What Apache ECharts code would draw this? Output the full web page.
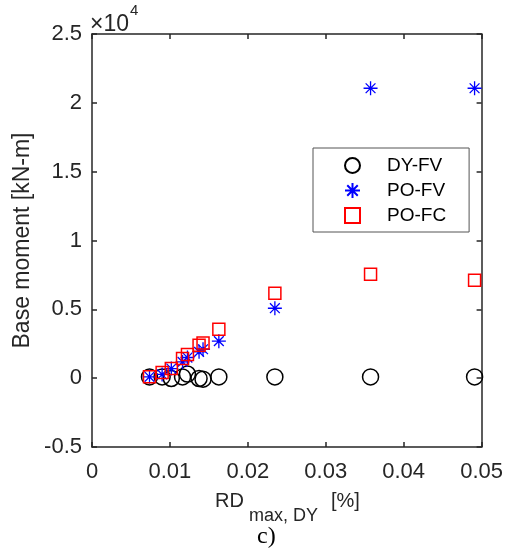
<!DOCTYPE html>
<html>
<head>
<meta charset="utf-8">
<script src="https://cdn.jsdelivr.net/npm/echarts@6/dist/echarts.min.js"></script>
<style>
html,body{margin:0;padding:0;background:#fff;}
#chart{width:506px;height:553px;}
</style>
</head>
<body>
<div id="chart"></div>
<script>
// Data (x: RD_max,DY [%], y: base moment [kN-m])
const rdValues = [0.00738, 0.0090, 0.01018, 0.01162, 0.01225, 0.01374, 0.01425, 0.01628, 0.02347, 0.03575, 0.0491];
const dyFV = [90, 90, -20, 90, 300, -20, -70, 90, 90, 90, 90];
const poFV = [100, 270, 700, 1180, 1500, 1910, 2100, 2690, 5080, 21060, 21060];
const poFC = [100, 410, 700, 1430, 1720, 2400, 2560, 3560, 6170, 7550, 7120];
const xTicks = [0, 0.01, 0.02, 0.03, 0.04, 0.05];
const yTicksScaled = [-0.5, 0, 0.5, 1, 1.5, 2, 2.5];
const seriesNames = ['DY-FV', 'PO-FV', 'PO-FC'];

const FONT = "'Liberation Sans', Arial, Helvetica, sans-serif";
const AX = '#262626';
const starPath = 'path://M0 5 L10 5 M5 0 L5 10 M1.5 1.5 L8.5 8.5 M1.5 8.5 L8.5 1.5';
const squarePath = 'path://M0 0 L10 0 L10 10 L0 10 Z';

const pairs = arr => rdValues.map((x, i) => [x, arr[i]]);

const chart = echarts.init(document.getElementById('chart'), null, {renderer: 'canvas'});

const axisCommon = {
  axisLine: {show: true, onZero: false, lineStyle: {color: AX, width: 1.5}},
  axisTick: {show: true, inside: true, length: 5, lineStyle: {color: AX, width: 1.5}},
  splitLine: {show: false}
};

chart.setOption({
  animation: false,
  backgroundColor: '#fff',
  grid: {left: 92, right: 21, top: 34, bottom: 106, containLabel: false},
  xAxis: [
    Object.assign({
      type: 'value', position: 'bottom', min: 0, max: 0.05, interval: 0.01,
      axisLabel: {color: AX, fontFamily: FONT, fontSize: 22, margin: 14,
        formatter: v => String(xTicks.find(t => Math.abs(t - v) < 1e-9) ?? v)}
    }, axisCommon),
    Object.assign({
      type: 'value', position: 'top', min: 0, max: 0.05, interval: 0.01,
      axisLabel: {show: false}
    }, axisCommon)
  ],
  yAxis: [
    Object.assign({
      type: 'value', position: 'left', min: -5000, max: 25000, interval: 5000,
      axisLabel: {color: AX, fontFamily: FONT, fontSize: 22, margin: 10,
        formatter: v => String(yTicksScaled.find(t => Math.abs(t * 10000 - v) < 1e-6) ?? v / 10000)}
    }, axisCommon),
    Object.assign({
      type: 'value', position: 'right', min: -5000, max: 25000, interval: 5000,
      axisLabel: {show: false}
    }, axisCommon)
  ],
  legend: {
    show: true,
    orient: 'vertical',
    left: 313, top: 148,
    data: seriesNames,
    backgroundColor: '#fff',
    borderColor: '#555',
    borderWidth: 1,
    padding: [8, 23, 7, 31],
    itemWidth: 15, itemHeight: 15, itemGap: 6,
    symbolKeepAspect: true,
    textStyle: {color: '#000', fontFamily: FONT, fontSize: 19, padding: [0, 0, 0, 22]}
  },
  series: [
    {
      name: seriesNames[0], type: 'scatter', data: pairs(dyFV),
      symbol: 'circle', symbolSize: 16,
      itemStyle: {color: 'rgba(0,0,0,0)', borderColor: '#000', borderWidth: 1.5, opacity: 1}
    },
    {
      name: seriesNames[1], type: 'scatter', data: pairs(poFV),
      symbol: starPath, symbolSize: 14,
      itemStyle: {color: 'rgba(0,0,0,0)', borderColor: '#0000ff', borderWidth: 1.3, opacity: 1}
    },
    {
      name: seriesNames[2], type: 'scatter', data: pairs(poFC),
      symbol: squarePath, symbolSize: 12,
      itemStyle: {color: 'rgba(0,0,0,0)', borderColor: '#ff0000', borderWidth: 1.5, opacity: 1}
    }
  ],
  graphic: [
    {type: 'text', x: 90, y: 13, style: {text: '×10', fontFamily: FONT, fontSize: 23, fill: AX}},
    {type: 'text', x: 130, y: 3, style: {text: '4', fontFamily: FONT, fontSize: 15, fill: AX}},
    {
      type: 'text', x: 23, y: 240.5, rotation: Math.PI / 2,
      style: {
        text: 'Base moment [kN-m]', fontFamily: FONT, fontSize: 23, fill: AX,
        align: 'center', verticalAlign: 'middle'
      }
    },
    {type: 'text', x: 215, y: 491, style: {text: 'RD', fontFamily: FONT, fontSize: 20, fill: AX}},
    {type: 'text', x: 249, y: 507, style: {text: 'max, DY', fontFamily: FONT, fontSize: 18, fill: AX}},
    {type: 'text', x: 331, y: 491, style: {text: '[%]', fontFamily: FONT, fontSize: 20, fill: AX}},
    {
      type: 'text', x: 257, y: 525,
      style: {text: 'c)', fontFamily: "'Liberation Serif', 'Times New Roman', serif", fontSize: 24, fill: '#000'}
    }
  ]
});
</script>
</body>
</html>
